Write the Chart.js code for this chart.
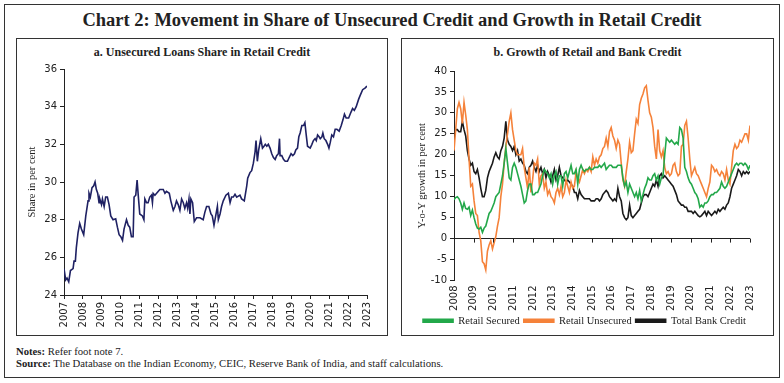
<!DOCTYPE html>
<html>
<head>
<meta charset="utf-8">
<script src="https://cdn.jsdelivr.net/npm/chart.js@4.4.0/dist/chart.umd.min.js"></script>
<style>
body { margin: 0; background: #fff; }
#wrap { position: relative; width: 784px; height: 383px; overflow: hidden; font-family: "Liberation Serif", serif; color: #222; }
.frame { position: absolute; left: 4px; top: 4px; width: 774px; height: 372px; border: 1.5px solid #333; }
.title { position: absolute; left: 0; top: 9px; width: 784px; text-align: center; font-weight: bold; font-size: 18.5px; line-height: 22px; }
.panel { position: absolute; top: 38px; height: 296px; border: 1px solid #333; }
.sub { position: absolute; top: 45px; text-align: center; font-weight: bold; font-size: 12px; line-height: 14px; }
canvas { position: absolute; }
.notes { position: absolute; left: 16px; font-size: 10.7px; line-height: 12px; }
</style>
</head>
<body>
<div id="wrap">
	<div class="frame"></div>
	<div class="title">Chart 2: Movement in Share of Unsecured Credit and Growth in Retail Credit</div>
	<div class="panel" style="left:16px;width:370px;"></div>
	<div class="panel" style="left:401px;width:371px;"></div>
	<div class="sub" style="left:16px;width:372px;">a. Unsecured Loans Share in Retail Credit</div>
	<div class="sub" style="left:401px;width:373px;">b. Growth of Retail and Bank Credit</div>
	<canvas id="chartA" width="369" height="273" style="left:17px;top:60px;"></canvas>
	<canvas id="chartB" width="370" height="274" style="left:402px;top:62px;"></canvas>
	<div class="notes" style="top:345px;"><b>Notes:</b> Refer foot note 7.</div>
	<div class="notes" style="top:357px;"><b>Source:</b> The Database on the Indian Economy, CEIC, Reserve Bank of India, and staff calculations.</div>
</div>
<script>
// a. unsecured share in retail credit (per cent)
var shareDates = [
	2007.00, 2007.09, 2007.16, 2007.25, 2007.34, 2007.48, 2007.53, 2007.60, 2007.65, 2007.74, 2007.83, 2007.92,
	2008.04, 2008.15, 2008.27, 2008.32, 2008.39, 2008.48, 2008.57, 2008.64, 2008.71, 2008.78, 2008.85, 2008.89, 2008.98,
	2009.03, 2009.12, 2009.20, 2009.29, 2009.38, 2009.47, 2009.59, 2009.73, 2009.82, 2009.91,
	2010.00, 2010.09, 2010.17, 2010.30, 2010.39, 2010.47, 2010.56, 2010.65, 2010.70, 2010.79, 2010.86, 2010.92,
	2011.00, 2011.14, 2011.22, 2011.27, 2011.36, 2011.44, 2011.53, 2011.62, 2011.67, 2011.71, 2011.80, 2011.89, 2011.97,
	2012.06, 2012.24, 2012.33, 2012.41, 2012.56, 2012.64, 2012.77, 2012.86, 2012.94,
	2013.03, 2013.12, 2013.21, 2013.30, 2013.38, 2013.47, 2013.53, 2013.60, 2013.65, 2013.70, 2013.79, 2013.88,
	2014.00, 2014.18, 2014.35, 2014.44, 2014.53, 2014.65, 2014.76, 2014.83, 2014.92,
	2015.01, 2015.10, 2015.15, 2015.24, 2015.32, 2015.41, 2015.55, 2015.68, 2015.77, 2015.85, 2015.94,
	2016.03, 2016.12, 2016.29, 2016.38, 2016.52, 2016.65, 2016.70, 2016.82, 2016.91,
	2017.00, 2017.09, 2017.14, 2017.21, 2017.28, 2017.39, 2017.48, 2017.56, 2017.63, 2017.71, 2017.79, 2017.88, 2017.97,
	2018.06, 2018.15, 2018.23, 2018.32, 2018.38, 2018.41, 2018.50, 2018.59, 2018.68, 2018.80, 2018.89, 2018.99,
	2019.08, 2019.17, 2019.24, 2019.33, 2019.40, 2019.47, 2019.56, 2019.65, 2019.72, 2019.79, 2019.86,
	2020.00, 2020.09, 2020.17, 2020.26, 2020.32, 2020.39, 2020.47, 2020.53, 2020.62, 2020.67, 2020.74, 2020.83, 2020.92, 2020.99,
	2021.06, 2021.14, 2021.23, 2021.32, 2021.41, 2021.53, 2021.64, 2021.73, 2021.81, 2021.90,
	2022.03, 2022.15, 2022.24, 2022.33, 2022.43, 2022.56, 2022.64, 2022.77, 2022.91, 2023.00
];
var shareValues = [
	25.4, 24.8, 24.9, 24.7, 25.3, 25.4, 25.8, 25.8, 26.5, 27.3, 27.8, 27.5,
	27.2, 28.2, 29.0, 29.4, 29.2, 29.7, 29.8, 30.0, 29.6, 29.4, 28.9, 29.1, 28.8,
	29.1, 28.7, 29.2, 29.2, 28.8, 28.2, 28.0, 28.05, 27.6, 27.2,
	27.1, 26.9, 27.5, 28.0, 27.7, 27.6, 27.1, 27.1, 29.2, 29.3, 30.1, 29.3,
	28.3, 28.2, 28.0, 29.1, 28.9, 28.9, 29.2, 29.3, 28.9, 29.4, 29.3, 29.4, 29.5,
	29.6, 29.6, 29.4, 29.5, 29.4, 29.0, 28.5, 28.7, 29.0,
	28.8, 28.5, 29.1, 28.9, 28.6, 28.9, 28.6, 29.1, 28.3, 29.1, 28.9, 27.9,
	28.1, 28.1, 28.0, 28.4, 28.7, 28.7, 28.3, 28.2, 27.7,
	28.2, 28.7, 28.0, 28.3, 28.7, 29.0, 29.3, 29.4, 28.9, 29.2, 29.2,
	29.35, 29.2, 29.3, 29.1, 29.0, 29.8, 30.2, 30.5, 30.6,
	31.0, 31.6, 32.2, 31.1, 31.7, 32.3, 31.8, 31.9, 32.0, 31.9, 32.0, 31.8, 31.5,
	31.3, 31.2, 31.4, 31.5, 32.3, 31.4, 31.4, 31.2, 31.1, 31.1, 31.3, 31.5,
	31.4, 31.5, 31.7, 31.8, 32.4, 32.6, 33.0, 33.0, 33.15, 32.5, 31.9,
	31.8, 32.0, 32.2, 32.3, 32.2, 32.5, 32.4, 32.3, 32.4, 32.6, 32.3, 32.2, 32.0, 31.8,
	32.1, 32.5, 32.4, 32.8, 32.8, 32.7, 33.0, 33.3, 33.6, 33.4,
	33.4, 33.7, 33.9, 33.8, 34.0, 34.4, 34.6, 34.9, 35.0, 35.1
];

// b. y-o-y growth (per cent), monthly from 2008 to 2023
var growthStart = 2008;
var growthEnd = 2023;
var securedValues = [
	9.3, 9.8, 10.0, 9.5, 8.5, 7.0, 8.5, 7.2, 7.0, 7.5,
	5.5, 6.8, 5.0, 3.5, 2.5, 2.3, 2.7, 1.5, 2.5, 3.0,
	4.5, 6.0, 6.5, 7.5, 8.5, 10.0, 10.5, 11.0, 13.0, 15.0,
	18.0, 21.5, 18.0, 14.5, 14.0, 17.0, 18.0, 17.0, 15.5, 14.0,
	12.5, 10.5, 8.5, 9.0, 11.5, 13.0, 13.0, 10.5, 10.5, 11.0,
	11.0, 12.0, 13.0, 15.0, 16.5, 16.0, 15.5, 14.5, 15.5, 13.0,
	15.0, 16.0, 13.0, 15.0, 15.0, 12.5, 15.5, 16.0, 14.5, 16.0,
	17.5, 15.5, 15.5, 16.5, 13.0, 16.5, 17.5, 16.5, 16.0, 16.5,
	16.5, 17.0, 16.5, 16.5, 17.0, 17.0, 17.0, 17.5, 17.0, 17.5,
	18.0, 16.5, 17.0, 17.5, 17.5, 17.0, 17.0, 17.0, 17.5, 17.5,
	17.5, 14.5, 12.5, 13.5, 11.0, 13.0, 12.0, 11.0, 10.0, 11.0,
	9.5, 11.5, 9.0, 10.5, 12.0, 13.0, 14.5, 14.0, 14.0, 15.0,
	15.5, 14.0, 15.0, 13.0, 14.5, 15.0, 20.0, 24.0, 23.5, 23.0,
	23.5, 23.0, 22.5, 23.0, 22.5, 26.5, 26.0, 24.0, 17.0, 16.0,
	14.5, 13.5, 13.0, 12.0, 11.0, 10.5, 9.5, 7.5, 8.0, 7.5,
	8.5, 8.5, 9.0, 10.0, 10.5, 10.5, 11.0, 11.0, 11.5, 12.0,
	13.5, 12.5, 12.0, 12.5, 13.5, 14.5, 15.5, 16.5, 17.5, 18.0,
	17.5, 18.0, 18.0, 17.5, 18.0, 17.5, 16.5, 17.5
];
var unsecuredValues = [
	21, 26, 31, 32.5, 31, 27.5, 32.5, 29.5, 26, 19,
	12.5, 13, 9, 6, 5.5, 1.5, -0.5, -5.5, -6, -7.5,
	-3, -1.5, -0.5, -2.5, -1, 0.5, 3, 5, 10, 13,
	18, 22, 25, 28, 30, 26, 23.5, 21, 20, 20,
	20, 21.5, 17, 14.5, 12, 17, 11, 14, 18, 17.5,
	19, 13, 15, 15.5, 12, 13.5, 10.5, 11.5, 10, 9.5,
	8.5, 11, 12, 10.5, 12.5, 10, 11, 14, 12.5, 11,
	13.5, 12, 12.5, 16, 14.5, 13.5, 15, 16.5, 15.5, 16.5,
	16, 17, 16, 19.5, 17.5, 19, 18, 19.5, 20, 21.5,
	22, 24, 22, 25.5, 26.5, 24.5, 23.5, 21.5, 23.5, 22.5,
	18, 14, 12.5, 16, 19, 23, 20.5, 21, 25, 28.5,
	27.5, 32, 33.5, 34.5, 36, 36.5, 33, 30, 29, 26.5,
	22, 19, 26, 21, 19.5, 21, 17, 15.5, 16, 15,
	15.5, 17.5, 18, 16, 15, 15.5, 22, 22.5, 27, 28,
	24, 19, 15, 16, 17, 15.5, 15, 14, 13, 12,
	11, 10, 12, 13.5, 17.5, 17, 16, 16.5, 15.5, 15,
	16, 15.5, 14, 16.5, 14, 13, 17, 21, 22.5, 21.5,
	22, 23.5, 23, 24, 25, 25, 23.5, 27
];
var bankValues = [
	24, 26, 26, 25.5, 25.5, 28, 26, 24.5, 21, 19,
	17.5, 18, 16, 15.5, 16.5, 14.5, 12, 10, 10, 11.5,
	14.5, 16, 17, 18, 19.5, 20.5, 19.5, 19, 21, 22,
	24, 28, 23.5, 22.5, 22, 21, 22, 20, 21, 18.5,
	19, 18, 17.5, 16, 15.5, 17, 17.5, 18.5, 17, 16,
	17.5, 16, 17, 15.5, 16.5, 14.5, 16, 15, 13.5, 15,
	16.5, 14, 15, 17, 15, 14.5, 14, 13.5, 14, 13.5,
	13, 12.5, 11, 11, 9.5, 11.5, 10.5, 10, 9.5, 9.5,
	9.5, 9.5, 9, 9, 9, 9.5, 9.5, 9, 9.5, 10.5,
	11, 11.5, 11, 10, 9.5, 9, 9.5, 9, 12, 10,
	9, 6, 5, 4.5, 5, 8, 5.5, 5, 5.5, 6,
	6.5, 7, 8.5, 10, 10.5, 10.5, 10, 11, 12, 13,
	12.5, 14, 12.5, 15, 15.5, 14.5, 15, 14.5, 14, 13.5,
	13, 12.5, 11.5, 10.5, 9, 8.5, 8, 8, 7.5, 7.5,
	6.5, 6.5, 6.5, 6, 6.5, 6, 5.5, 5.2, 5.5, 6,
	6.5, 5.5, 6.5, 6, 5.5, 6, 6.5, 6, 7, 6.5,
	7, 7.5, 7, 8, 8.5, 10, 12, 13, 14, 15,
	16.5, 16, 15, 16, 15.5, 16, 15.5, 16
];

var tickFont = { family: 'DejaVu Sans', size: 10 };
var serifFont = { family: 'Liberation Serif', size: 10.5 };
var axisColor = '#222';

function toPoints(dates, values) {
	var points = [];
	for (var i = 0; i < values.length; i++) {
		points.push({ x: dates[i], y: values[i] });
	}
	return points;
}

function monthlyPoints(values) {
	var points = [];
	var step = (growthEnd - growthStart) / (values.length - 1);
	for (var i = 0; i < values.length; i++) {
		points.push({ x: growthStart + i * step, y: values[i] });
	}
	return points;
}

function yearTicks(pad) {
	return {
		stepSize: 1,
		autoSkip: false,
		minRotation: 90,
		maxRotation: 90,
		padding: pad,
		color: axisColor,
		font: tickFont,
		callback: function(v) { return String(v); }
	};
}

// small ticks on the zero line of chart b
var zeroTicks = {
	id: 'zeroTicks',
	afterDraw: function(chart) {
		var xs = chart.scales.x;
		var y0 = chart.scales.y.getPixelForValue(0);
		var c = chart.ctx;
		c.save();
		c.strokeStyle = axisColor;
		c.lineWidth = 1;
		for (var yr = growthStart; yr <= growthEnd; yr++) {
			var px = Math.round(xs.getPixelForValue(yr)) + 0.5;
			c.beginPath();
			c.moveTo(px, y0);
			c.lineTo(px, y0 + 4);
			c.stroke();
		}
		c.restore();
	}
};

new Chart(document.getElementById('chartA'), {
	type: 'line',
	data: {
		datasets: [
			{
				label: 'Unsecured share',
				data: toPoints(shareDates, shareValues),
				borderColor: '#1f2163',
				borderWidth: 1.6,
				pointRadius: 0,
				tension: 0
			}
		]
	},
	options: {
		responsive: false,
		animation: false,
		layout: { padding: { top: 3, right: 19 } },
		plugins: { legend: { display: false }, tooltip: { enabled: false } },
		scales: {
			x: {
				type: 'linear',
				min: 2007,
				max: 2023,
				ticks: yearTicks(3),
				grid: { drawOnChartArea: false, tickLength: 4, color: axisColor },
				border: { color: axisColor },
				afterFit: function(s) { s.height = 38; }
			},
			y: {
				min: 24,
				max: 36,
				ticks: { stepSize: 2, color: axisColor, font: tickFont },
				grid: { drawOnChartArea: false, tickLength: 4, color: axisColor },
				border: { color: axisColor },
				title: { display: true, text: 'Share in per cent', color: axisColor, font: serifFont, padding: { top: 9, bottom: 4 } },
				afterFit: function(s) { s.width = 47; }
			}
		}
	}
});

new Chart(document.getElementById('chartB'), {
	type: 'line',
	data: {
		datasets: [
			{
				label: 'Retail Secured',
				data: monthlyPoints(securedValues),
				borderColor: '#23a84a',
				backgroundColor: '#23a84a',
				borderWidth: 1.6,
				pointRadius: 0,
				tension: 0
			},
			{
				label: 'Retail Unsecured',
				data: monthlyPoints(unsecuredValues),
				borderColor: '#f5823a',
				backgroundColor: '#f5823a',
				borderWidth: 1.6,
				pointRadius: 0,
				tension: 0
			},
			{
				label: 'Total Bank Credit',
				data: monthlyPoints(bankValues),
				borderColor: '#1a1a1a',
				backgroundColor: '#1a1a1a',
				borderWidth: 1.6,
				pointRadius: 0,
				tension: 0
			}
		]
	},
	options: {
		responsive: false,
		animation: false,
		layout: { padding: { top: 7, right: 22 } },
		plugins: {
			tooltip: { enabled: false },
			legend: {
				position: 'bottom',
				align: 'end',
				labels: {
					boxWidth: 30,
					boxHeight: 3,
					padding: 4,
					color: axisColor,
					font: { family: 'Liberation Serif', size: 10.5 }
				}
			}
		},
		scales: {
			x: {
				type: 'linear',
				min: growthStart,
				max: growthEnd,
				ticks: yearTicks(5),
				grid: { display: false, drawTicks: false, tickLength: 0 },
				border: { display: false },
				afterFit: function(s) { s.height = 31; }
			},
			y: {
				min: -10,
				max: 40,
				ticks: { stepSize: 5, color: axisColor, font: tickFont },
				grid: {
					tickLength: 4,
					tickColor: axisColor,
					color: function(ctx) { return ctx.tick && ctx.tick.value === 0 ? axisColor : 'rgba(0,0,0,0)'; }
				},
				border: { color: axisColor },
				title: { display: true, text: 'Y-o-Y growth in per cent', color: axisColor, font: serifFont, padding: { top: 14, bottom: 4 } },
				afterFit: function(s) { s.width = 52; }
			}
		}
	},
	plugins: [zeroTicks]
});
</script>
</body>
</html>
